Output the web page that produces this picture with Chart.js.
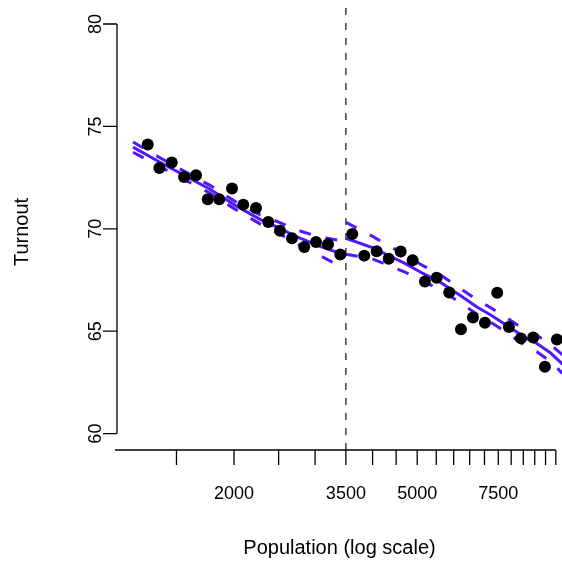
<!DOCTYPE html>
<html>
<head>
<meta charset="utf-8">
<script src="https://cdn.jsdelivr.net/npm/chart.js@4"></script>
<style>
  html, body { margin: 0; padding: 0; background: #fff; }
  #Turnout { display: block; }
</style>
</head>
<body>
<canvas id="Turnout" width="562" height="561"></canvas>
<script>
// binned observations
let PopBins = [1299, 1377, 1465, 1558, 1654, 1754, 1858, 1980, 2095, 2233, 2374, 2517, 2673, 2842, 3014, 3200, 3403,
    3613, 3837, 4082, 4335, 4603, 4887, 5197, 5510, 5869, 6223, 6607, 7016, 7460, 7910, 8399, 8932, 9470, 10055]
let TurnoutBins = [74.12, 72.97, 73.24, 72.53, 72.62, 71.44, 71.44, 71.97, 71.18, 71.02, 70.33, 69.91, 69.54, 69.11, 69.35, 69.24, 68.74,
    69.75, 68.69, 68.90, 68.54, 68.89, 68.46, 67.43, 67.61, 66.89, 65.09, 65.67, 65.41, 66.88, 65.20, 64.65, 64.69, 63.26, 64.60]

// fit below the cutoff
let LeftX = [1207, 1381, 1565, 1774, 2010, 2278, 2517, 2741, 3075, 3500]
let LeftFit = [73.99, 73.25, 72.59, 71.93, 71.15, 70.46, 70.02, 69.60, 69.14, 68.70]
let LeftUpper = [74.24, 73.47, 72.79, 72.12, 71.34, 70.68, 70.30, 69.94, 69.59, 69.38]
let LeftLower = [73.74, 73.03, 72.39, 71.74, 70.96, 70.24, 69.74, 69.26, 68.69, 68.02]

// fit above the cutoff
let RightX = [3500, 4007, 4363, 4703, 5146, 5602, 6191, 6741, 7193, 7831, 8655, 9099, 9710, 10310, 10731]
let RightFit = [69.54, 69.07, 68.66, 68.31, 67.82, 67.40, 66.75, 66.18, 65.82, 65.28, 64.63, 64.40, 63.96, 63.42, 63.15]
let RightUpper = [70.32, 69.62, 69.14, 68.73, 68.20, 67.76, 67.10, 66.53, 66.17, 65.64, 65.01, 64.80, 64.38, 63.87, 63.62]
let RightLower = [68.76, 68.52, 68.18, 67.89, 67.44, 67.04, 66.40, 65.83, 65.47, 64.92, 64.25, 64.00, 63.54, 62.97, 62.68]

let Cutoff = 3500
let YTicks = [60, 65, 70, 75, 80]
let XTicks = [1500, 2000, 2500, 3000, 3500, 4000, 4500, 5000, 5500, 6000, 6500, 7000, 7500, 8000, 8500, 9000, 9500, 10000]
let XLabels = [2000, 3500, 5000, 7500]

const FitColor = '#5217ff'
const FontName = '"Liberation Sans", Arial, Helvetica, sans-serif'

function Pairs(Xs, Ys) {
    return Xs.map((X, i) => ({ x: X, y: Ys[i] }))
}

function FitLine(Xs, Ys, Dashed) {
    return {
        type: 'line',
        data: Pairs(Xs, Ys),
        borderColor: FitColor,
        borderWidth: 3,
        borderDash: Dashed ? [12, 15] : [],
        pointRadius: 0,
        fill: false,
        tension: 0
    }
}

// R-style axes, drawn off the chart's own scales
let RAxes = {
    id: 'rAxes',
    afterDraw(chart) {
        let ctx = chart.ctx
        let X = chart.scales.x
        let Y = chart.scales.y
        let Area = chart.chartArea
        ctx.save()
        ctx.strokeStyle = '#000'
        ctx.fillStyle = '#000'
        ctx.lineWidth = 1.3

        // y axis
        let Left = Area.left
        let YTop = Y.getPixelForValue(YTicks[YTicks.length - 1])
        let YBottom = Y.getPixelForValue(YTicks[0])
        ctx.beginPath()
        ctx.moveTo(Left, YTop)
        ctx.lineTo(Left, YBottom)
        for (let T of YTicks) {
            let P = Y.getPixelForValue(T)
            ctx.moveTo(Left, P)
            ctx.lineTo(Left - 14, P)
        }
        ctx.stroke()
        ctx.font = '18px ' + FontName
        ctx.textAlign = 'center'
        ctx.textBaseline = 'middle'
        for (let T of YTicks) {
            let P = Y.getPixelForValue(T)
            ctx.save()
            ctx.translate(96, P)
            ctx.rotate(-Math.PI / 2)
            ctx.fillText(String(T), 0, 0)
            ctx.restore()
        }

        // x axis
        let Bottom = Area.bottom
        ctx.beginPath()
        ctx.moveTo(Left - 2, Bottom)
        ctx.lineTo(X.getPixelForValue(XTicks[XTicks.length - 1]), Bottom)
        for (let T of XTicks) {
            let P = X.getPixelForValue(T)
            ctx.moveTo(P, Bottom)
            ctx.lineTo(P, Bottom + 15)
        }
        ctx.stroke()
        for (let T of XLabels) {
            ctx.fillText(String(T), X.getPixelForValue(T), 494)
        }

        // titles
        ctx.font = '20px ' + FontName
        ctx.fillText('Population (log scale)', (Area.left + Area.right) / 2, 548)
        ctx.save()
        ctx.translate(22, 232)
        ctx.rotate(-Math.PI / 2)
        ctx.fillText('Turnout', 0, 0)
        ctx.restore()
        ctx.restore()
    }
}

let ChartTurnout = new Chart(document.getElementById('Turnout'), {
    type: 'scatter',
    data: {
        datasets: [
            {
                data: Pairs(PopBins, TurnoutBins),
                backgroundColor: '#000',
                borderColor: '#000',
                pointRadius: 6,
                pointBorderWidth: 0
            },
            FitLine(LeftX, LeftFit, false),
            FitLine(LeftX, LeftUpper, true),
            FitLine(LeftX, LeftLower, true),
            FitLine(RightX, RightFit, false),
            FitLine(RightX, RightUpper, true),
            FitLine(RightX, RightLower, true),
            {
                type: 'line',
                data: [{ x: Cutoff, y: 59.2 }, { x: Cutoff, y: 80.8 }],
                borderColor: '#222',
                borderWidth: 1.3,
                borderDash: [7, 8],
                pointRadius: 0,
                fill: false
            }
        ]
    },
    plugins: [RAxes],
    options: {
        responsive: false,
        animation: false,
        layout: {
            autoPadding: false,
            padding: { left: 117, right: 0, top: 7.6, bottom: 111 }
        },
        plugins: {
            legend: { display: false },
            tooltip: { enabled: false }
        },
        scales: {
            x: { type: 'logarithmic', min: 1114, max: 10315, display: false },
            y: { type: 'linear', min: 59.2, max: 80.8, display: false }
        }
    }
});
</script>
</body>
</html>
